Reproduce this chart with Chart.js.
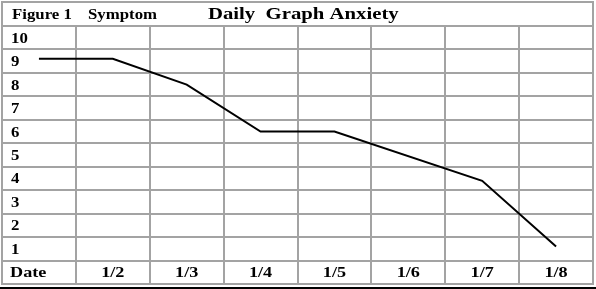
<!DOCTYPE html>
<html>
<head>
<meta charset="utf-8">
<script src="https://cdn.jsdelivr.net/npm/chart.js@4.4.1/dist/chart.umd.min.js"></script>
<style>
  body { margin: 0; background: #fff; }
  #wrap { width: 596px; height: 289px; position: relative; }
</style>
</head>
<body>
<div id="wrap"><canvas id="chart-anxiety"></canvas></div>
<script>
// data
var dates = ["Date", "1/2", "1/3", "1/4", "1/5", "1/6", "1/7", "1/8"];
var anxiety = [9.1, 9.1, 8, 6, 6, null, 3.9, 1.1];
var levels = [10, 9, 8, 7, 6, 5, 4, 3, 2, 1];
var figureLabel = "Figure 1";
var symptomLabel = "Symptom";
var titleText = "Daily  Graph Anxiety";

var gridColor = "#a3a3a3";
var serif = "'Liberation Serif', 'Times New Roman', serif";

// row edges sit half way between the levels
var rowEdges = [];
for (var v = -0.5; v <= levels[0] + 0.5; v++) rowEdges.push(v);

// the original text is bold serif, stretched wide
function wideText(ctx, txt, x, y, size, align, stretch) {
  ctx.save();
  ctx.font = "bold " + size + "px " + serif;
  ctx.textAlign = align || "left";
  ctx.textBaseline = "alphabetic";
  ctx.fillStyle = "#000";
  ctx.translate(x, y);
  ctx.scale(stretch || 1.3, 1);
  ctx.fillText(txt, 0, 0);
  ctx.restore();
}

var tableText = {
  id: "tableText",
  afterDraw: function (chart) {
    var ctx = chart.ctx;
    var area = chart.chartArea;
    var x = chart.scales.x;
    var y = chart.scales.y;

    // title row box
    ctx.save();
    ctx.strokeStyle = gridColor;
    ctx.lineWidth = 2;
    ctx.strokeRect(area.left, 2, area.right - area.left, area.top - 2);
    // dark rule under the table
    ctx.strokeStyle = "#000";
    ctx.beginPath();
    ctx.moveTo(0, 288);
    ctx.lineTo(chart.width, 288);
    ctx.stroke();
    ctx.restore();

    wideText(ctx, figureLabel, area.left + 10, 18.5, 14, "left", 1.2);
    wideText(ctx, symptomLabel, 88, 18.5, 14, "left", 1.2);
    wideText(ctx, titleText, 208, 18.5, 17, "left", 1.22);

    levels.forEach(function (lv) {
      wideText(ctx, String(lv), area.left + 9, y.getPixelForValue(lv) + 5, 14, "left", 1.2);
    });
    var rowY = y.getPixelForValue(0) + 4.5;
    dates.forEach(function (d, i) {
      if (i === 0) wideText(ctx, d, area.left + 8, rowY, 14);
      else wideText(ctx, d, x.getPixelForValue(i), rowY, 14, "center");
    });
  }
};

new Chart(document.getElementById("chart-anxiety"), {
  type: "line",
  data: {
    labels: dates,
    datasets: [
      {
        data: anxiety,
        borderColor: "#000",
        borderWidth: 2,
        pointRadius: 0,
        tension: 0,
        spanGaps: true,
        fill: false,
      },
    ],
  },
  options: {
    responsive: true,
    maintainAspectRatio: false,
    animation: false,
    layout: { padding: { left: 2, right: 3, top: 26, bottom: 5 } },
    plugins: {
      legend: { display: false },
      tooltip: { enabled: false },
    },
    scales: {
      x: {
        offset: true,
        grid: { offset: true, color: gridColor, lineWidth: 2, drawTicks: false },
        border: { color: gridColor, width: 2 },
        ticks: { display: false },
      },
      y: {
        min: rowEdges[0],
        max: rowEdges[rowEdges.length - 1],
        afterBuildTicks: function (scale) {
          scale.ticks = rowEdges.map(function (e) { return { value: e }; });
        },
        grid: { color: gridColor, lineWidth: 2, drawTicks: false },
        border: { color: gridColor, width: 2 },
        ticks: { display: false },
      },
    },
  },
  plugins: [tableText],
});
</script>
</body>
</html>
